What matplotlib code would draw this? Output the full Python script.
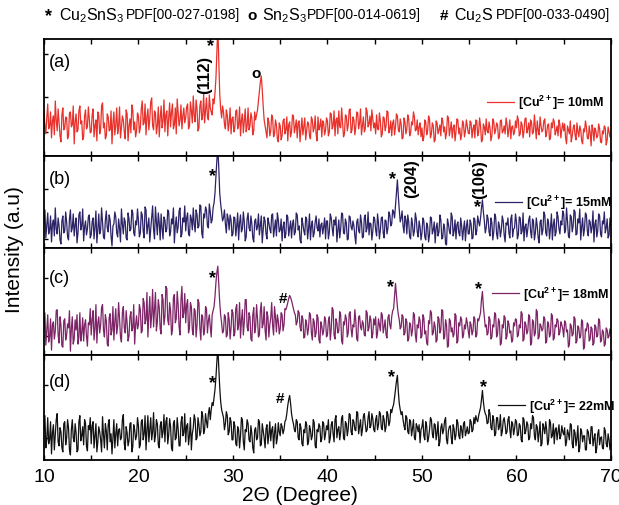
import numpy as np
import matplotlib
matplotlib.use("Agg")
from matplotlib import pyplot as plt
from matplotlib.ticker import MultipleLocator, NullFormatter

plt.rcParams['font.family'] = ['Liberation Sans', 'DejaVu Sans']
plt.rcParams['mathtext.default'] = 'regular'

# 2theta grid, 0.1 degree step from 10 to 70
two_theta = np.round(np.linspace(10, 70, 601), 1)

# intensities (arbitrary units), one row = 5 degrees
int_a = [
    45, 30, 22, 38, 52, 27, 30, 44, 18, 35, 40, 21, 55, 36, 25, 47, 33, 20, 14, 41,
    48, 26, 28, 39, 38, 17, 20, 43, 44, 29, 31, 50, 12, 34, 42, 24, 26, 45, 50, 32,
    35, 16, 19, 40, 46, 27, 29, 49, 37, 23,
    24, 41, 47, 19, 30, 36, 15, 44, 41, 22, 27, 50, 53, 28, 33, 17, 20, 42, 39, 25,
    26, 45, 12, 33, 44, 21, 31, 48, 22, 30, 49, 18, 28, 40, 36, 24, 17, 46, 42, 15,
    30, 37, 23, 51, 46, 26, 34, 19, 25, 43,
    40, 23, 28, 47, 55, 31, 33, 52, 21, 39, 47, 26, 37, 54, 58, 30, 26, 45, 43, 22,
    30, 49, 19, 38, 50, 28, 35, 56, 24, 41, 45, 20, 38, 53, 29, 44, 52, 27, 31, 48,
    22, 57, 44, 30, 36, 51, 27, 40, 48, 33,
    38, 49, 52, 27, 30, 54, 45, 33, 60, 41, 34, 56, 47, 25, 28, 50, 55, 36, 40, 62,
    33, 45, 58, 39, 36, 61, 48, 44, 41, 57, 52, 63, 78, 104, 130, 95, 62, 47, 38, 50,
    44, 32, 27, 46, 41, 25, 33, 48, 22, 37,
    39, 24, 28, 45, 46, 27, 31, 49, 20, 36, 42, 23, 35, 47, 24, 30, 48, 26, 30, 43,
    38, 21, 25, 44, 36, 41, 46, 55, 64, 74, 80, 66, 50, 36, 30, 24, 18, 38, 34, 20,
    25, 41, 38, 19, 22, 36, 31, 17, 14, 33,
    30, 16, 20, 35, 37, 22, 26, 39, 15, 31, 34, 19, 24, 41, 40, 23, 29, 36, 18, 33,
    35, 14, 27, 38, 21, 30, 38, 16, 25, 34, 32, 20, 17, 39, 36, 24, 28, 40, 22, 15,
    39, 26, 30, 37, 19, 35, 33, 21, 26, 38,
    35, 20, 24, 43, 42, 27, 30, 45, 20, 36, 38, 22, 45, 29, 28, 48, 34, 19, 22, 41,
    40, 25, 31, 46, 47, 23, 26, 39, 36, 21, 29, 44, 43, 27, 33, 47, 21, 30, 39, 24,
    27, 48, 44, 29, 32, 40, 25, 46, 37, 28,
    33, 22, 41, 27, 26, 43, 35, 19, 22, 39, 38, 25, 30, 45, 44, 23, 27, 35, 20, 33,
    36, 21, 29, 42, 40, 26, 24, 37, 32, 17, 18, 38, 34, 22, 27, 41, 37, 20, 23, 34,
    31, 44, 39, 25, 26, 36, 21, 29, 33, 19,
    28, 15, 19, 36, 34, 21, 25, 40, 37, 18, 22, 33, 30, 14, 16, 35, 33, 22, 26, 31,
    20, 38, 35, 24, 29, 17, 23, 40, 38, 20, 27, 34, 18, 28, 31, 15, 24, 37, 36, 22,
    28, 16, 21, 35, 32, 19, 25, 36, 30, 23,
    22, 35, 33, 18, 27, 31, 18, 36, 35, 20, 24, 38, 30, 14, 16, 32, 29, 21, 37, 25,
    23, 34, 28, 15, 20, 37, 34, 22, 26, 33, 31, 17, 19, 35, 36, 23, 25, 30, 22, 38,
    32, 19, 27, 36, 17, 29, 30, 21, 24, 35,
    28, 40, 36, 20, 22, 34, 31, 18, 25, 37, 38, 23, 27, 33, 19, 36, 33, 22, 24, 41,
    29, 17, 35, 26, 21, 39, 30, 24, 26, 35, 37, 19, 23, 31, 32, 16, 18, 33, 28, 37,
    34, 21, 25, 30, 20, 36, 31, 18, 27, 33,
    25, 32, 18, 12, 30, 26, 22, 35, 14, 20, 28, 31, 21, 16, 33, 24, 19, 30, 26, 15,
    12, 27, 24, 35, 29, 18, 17, 30, 23, 10, 31, 26, 15, 28, 25, 18, 20, 32, 27, 14,
    13, 25, 22, 30, 28, 11, 16, 29, 24, 19,
    18,
]
int_b = [
    25, 38, 10, 22, 35, 14, 18, 32, 6, 24, 28, 12, 40, 19, 14, 30, 22, 8, 4, 27,
    32, 15, 17, 36, 26, 11, 8, 29, 38, 16, 20, 34, 12, 23, 30, 5, 15, 33, 36, 18,
    22, 39, 7, 21, 27, 13, 19, 31, 33, 10,
    13, 26, 30, 9, 21, 37, 5, 18, 34, 14, 18, 40, 25, 11, 9, 28, 37, 20, 16, 33,
    28, 12, 2, 22, 24, 36, 31, 15, 11, 29, 20, 6, 39, 24, 14, 30, 26, 10, 8, 35,
    29, 17, 19, 38, 35, 15, 12, 27, 23, 39,
    27, 11, 15, 36, 33, 17, 10, 41, 38, 14, 22, 30, 6, 19, 30, 42, 18, 9, 41, 26,
    13, 35, 25, 8, 34, 20, 9, 31, 28, 16, 19, 38, 36, 12, 16, 29, 24, 40, 5, 22,
    31, 15, 21, 37, 40, 11, 14, 30, 26, 42,
    17, 30, 35, 14, 12, 33, 29, 18, 40, 24, 16, 38, 33, 20, 22, 43, 42, 15, 10, 34,
    30, 41, 38, 22, 20, 44, 36, 25, 28, 40, 45, 55, 72, 88, 100, 80, 55, 44, 36, 27,
    30, 38, 24, 15, 34, 29, 18, 33, 28, 12,
    14, 31, 30, 12, 22, 35, 8, 25, 33, 16, 19, 36, 26, 7, 11, 29, 35, 20, 17, 32,
    24, 10, 6, 27, 29, 18, 21, 34, 13, 23, 32, 5, 18, 31, 27, 14, 9, 30, 25, 19,
    15, 33, 34, 11, 20, 28, 12, 35, 28, 16,
    18, 29, 7, 21, 26, 10, 14, 33, 31, 12, 20, 27, 10, 24, 28, 13, 16, 35, 33, 18,
    22, 8, 5, 30, 24, 17, 13, 31, 29, 9, 19, 34, 8, 22, 27, 11, 15, 26, 32, 20,
    17, 29, 11, 23, 25, 14, 21, 30, 9, 27,
    27, 9, 16, 34, 30, 20, 12, 28, 23, 31, 6, 18, 28, 10, 19, 35, 34, 15, 14, 29,
    25, 8, 9, 32, 31, 21, 18, 27, 22, 12, 4, 26, 29, 17, 15, 33, 26, 10, 11, 30,
    33, 16, 20, 36, 13, 25, 24, 8, 17, 31,
    29, 18, 12, 34, 25, 9, 18, 30, 31, 15, 10, 28, 27, 14, 20, 36, 33, 22, 24, 38,
    36, 30, 42, 55, 68, 52, 38, 26, 30, 37, 22, 15, 32, 28, 14, 33, 26, 11, 9, 30,
    24, 12, 17, 35, 29, 16, 11, 27, 21, 8,
    15, 30, 27, 11, 8, 25, 22, 6, 13, 31, 30, 14, 18, 26, 5, 20, 25, 12, 16, 33,
    28, 9, 10, 24, 20, 4, 3, 29, 24, 17, 14, 35, 31, 12, 17, 28, 9, 23, 26, 15,
    12, 30, 22, 8, 19, 27, 7, 21, 28, 14,
    14, 28, 24, 9, 10, 30, 28, 13, 17, 32, 26, 22, 30, 40, 48, 36, 27, 15, 20, 33,
    29, 16, 12, 30, 25, 8, 16, 34, 31, 14, 9, 26, 22, 11, 18, 32, 27, 13, 6, 25,
    23, 30, 15, 10, 29, 33, 11, 19, 20, 34,
    26, 9, 13, 31, 30, 14, 17, 35, 7, 21, 24, 11, 19, 28, 32, 16, 10, 29, 27, 8,
    15, 30, 22, 10, 5, 26, 28, 13, 18, 36, 33, 15, 12, 29, 25, 9, 20, 34, 8, 23,
    29, 12, 16, 36, 31, 19, 14, 27, 23, 37,
    34, 15, 18, 40, 27, 12, 10, 33, 31, 16, 22, 38, 36, 13, 14, 29, 25, 39, 8, 21,
    30, 12, 19, 35, 33, 17, 12, 28, 26, 15, 21, 37, 6, 24, 28, 11, 17, 34, 32, 14,
    11, 27, 24, 36, 15, 20, 29, 10, 13, 30,
    22,
]
int_c = [
    28, 42, 10, 25, 40, 13, 18, 36, 5, 30, 33, 16, 24, 44, 45, 20, 12, 38, 30, 9,
    8, 34, 36, 15, 20, 31, 27, 44, 4, 26, 38, 11, 16, 35, 25, 40, 11, 18, 42, 14,
    22, 37, 14, 30, 35, 19, 9, 32, 30, 46,
    20, 35, 44, 15, 26, 50, 12, 32, 38, 22, 30, 47, 50, 25, 18, 40, 34, 11, 9, 37,
    41, 20, 25, 48, 15, 33, 46, 21, 29, 52, 36, 18, 13, 42, 48, 27, 22, 44, 32, 14,
    19, 38, 43, 24, 27, 50, 11, 30, 39, 26,
    30, 50, 45, 22, 24, 56, 52, 31, 35, 62, 18, 40, 58, 27, 40, 65, 28, 45, 62, 24,
    33, 55, 47, 26, 21, 60, 55, 30, 38, 68, 66, 35, 30, 52, 44, 20, 25, 57, 60, 32,
    36, 63, 50, 28, 20, 55, 68, 37, 42, 61,
    32, 50, 55, 22, 27, 52, 48, 25, 20, 46, 44, 18, 30, 55, 52, 27, 15, 40, 38, 20,
    25, 48, 46, 22, 34, 40, 28, 18, 40, 44, 48, 58, 72, 82, 88, 70, 52, 40, 32, 22,
    24, 40, 38, 18, 20, 42, 35, 16, 27, 45,
    42, 19, 22, 46, 50, 25, 30, 52, 17, 35, 45, 20, 33, 55, 55, 28, 24, 42, 38, 16,
    14, 40, 47, 22, 28, 50, 36, 18, 20, 44, 52, 27, 31, 48, 25, 15, 43, 38, 18, 30,
    37, 52, 29, 20, 48, 38, 23, 40, 34, 21,
    26, 42, 40, 24, 30, 46, 45, 48, 52, 56, 59, 57, 54, 50, 46, 42, 40, 30, 33, 44,
    42, 28, 24, 39, 36, 17, 18, 35, 31, 20, 27, 42, 40, 22, 15, 36, 33, 18, 22, 40,
    37, 15, 12, 33, 29, 20, 24, 38, 35, 18,
    20, 34, 38, 15, 26, 47, 45, 20, 16, 36, 32, 22, 24, 43, 40, 14, 11, 33, 30, 40,
    36, 18, 22, 41, 43, 26, 18, 30, 28, 45, 34, 16, 14, 38, 39, 28, 25, 34, 31, 20,
    19, 44, 42, 24, 27, 39, 35, 17, 21, 36,
    30, 38, 17, 22, 36, 30, 24, 42, 40, 22, 28, 35, 20, 17, 37, 40, 30, 26, 38, 44,
    46, 58, 71, 60, 48, 40, 35, 26, 28, 40, 38, 20, 22, 36, 33, 14, 16, 32, 30, 19,
    25, 42, 40, 20, 13, 30, 27, 38, 34, 17,
    19, 40, 37, 21, 24, 12, 10, 34, 31, 44, 42, 20, 22, 33, 28, 13, 15, 38, 36, 22,
    25, 45, 44, 16, 18, 35, 30, 8, 9, 36, 34, 23, 27, 18, 21, 41, 39, 12, 14, 32,
    29, 38, 35, 17, 20, 30, 26, 37, 32, 24,
    17, 33, 30, 20, 24, 38, 36, 18, 20, 36, 34, 38, 42, 55, 63, 48, 38, 28, 30, 20,
    22, 38, 35, 16, 18, 30, 28, 42, 40, 18, 21, 36, 33, 10, 12, 30, 27, 39, 37, 16,
    19, 34, 31, 22, 24, 13, 15, 32, 29, 36,
    35, 18, 20, 30, 27, 43, 41, 14, 16, 33, 30, 21, 24, 40, 38, 10, 12, 35, 33, 19,
    22, 45, 43, 16, 18, 31, 29, 24, 26, 38, 36, 12, 14, 33, 31, 18, 21, 41, 39, 15,
    17, 30, 28, 36, 34, 20, 23, 33, 30, 26,
    18, 34, 32, 23, 25, 8, 10, 31, 29, 19, 21, 38, 36, 12, 14, 29, 27, 17, 19, 35,
    33, 6, 8, 26, 24, 32, 30, 14, 16, 28, 26, 10, 12, 30, 28, 18, 20, 36, 34, 13,
    15, 25, 23, 9, 11, 27, 25, 17, 19, 26,
    22,
]
int_d = [
    30, 44, 12, 20, 42, 16, 20, 38, 6, 27, 35, 10, 25, 40, 46, 18, 14, 32, 28, 12,
    8, 36, 38, 15, 22, 40, 32, 10, 5, 30, 40, 22, 18, 36, 27, 8, 10, 38, 44, 19,
    24, 33, 15, 40, 36, 14, 9, 34, 30, 42,
    16, 34, 38, 12, 24, 36, 8, 18, 33, 28, 20, 8, 43, 25, 12, 36, 29, 10, 35, 40,
    18, 26, 6, 22, 40, 12, 26, 36, 14, 30, 31, 20, 22, 40, 45, 16, 10, 33, 27, 14,
    19, 36, 37, 8, 13, 35, 30, 20, 24, 42,
    34, 12, 15, 38, 40, 20, 26, 44, 10, 30, 44, 18, 30, 42, 20, 28, 47, 18, 24, 40,
    36, 15, 12, 34, 38, 22, 28, 45, 18, 38, 42, 16, 25, 41, 33, 12, 9, 36, 39, 20,
    22, 42, 31, 14, 14, 37, 43, 24, 27, 46,
    18, 34, 36, 15, 24, 42, 10, 26, 32, 45, 40, 20, 22, 42, 35, 24, 28, 48, 44, 26,
    30, 46, 38, 32, 46, 52, 40, 50, 57, 54, 62, 70, 82, 98, 112, 92, 72, 58, 50, 46,
    42, 30, 36, 48, 44, 25, 28, 42, 38, 20,
    20, 38, 34, 16, 14, 33, 30, 12, 24, 42, 40, 18, 10, 30, 28, 40, 36, 20, 18, 34,
    26, 12, 7, 30, 32, 20, 22, 40, 38, 14, 15, 36, 29, 22, 12, 31, 35, 16, 25, 38,
    19, 30, 33, 12, 27, 36, 16, 22, 37, 28,
    24, 36, 33, 26, 30, 38, 40, 46, 54, 60, 64, 56, 46, 40, 36, 30, 28, 40, 38, 22,
    20, 36, 32, 16, 14, 30, 27, 38, 35, 15, 18, 34, 30, 20, 24, 40, 37, 14, 12, 30,
    28, 36, 33, 18, 21, 38, 36, 20, 26, 34,
    30, 40, 17, 22, 35, 38, 26, 18, 40, 44, 22, 30, 33, 20, 28, 42, 44, 22, 20, 38,
    36, 24, 31, 46, 45, 28, 25, 40, 38, 30, 29, 48, 47, 26, 33, 40, 24, 30, 43, 46,
    36, 28, 30, 42, 48, 32, 34, 46, 41, 30,
    28, 40, 44, 30, 35, 48, 46, 32, 30, 44, 40, 28, 33, 48, 45, 34, 38, 50, 47, 52,
    55, 62, 70, 78, 84, 68, 56, 50, 45, 48, 40, 34, 30, 44, 42, 28, 26, 40, 38, 24,
    31, 40, 22, 20, 36, 33, 28, 35, 17, 30,
    33, 40, 24, 20, 38, 34, 18, 22, 30, 42, 40, 26, 22, 36, 35, 20, 27, 38, 14, 18,
    32, 36, 26, 30, 39, 42, 20, 16, 29, 33, 34, 22, 16, 35, 31, 20, 25, 40, 37, 24,
    21, 34, 30, 22, 36, 38, 24, 28, 33, 26,
    27, 40, 38, 28, 30, 42, 36, 44, 40, 38, 44, 48, 52, 60, 69, 58, 50, 46, 44, 36,
    37, 50, 46, 32, 30, 44, 40, 24, 26, 42, 42, 30, 33, 45, 24, 28, 39, 42, 35, 26,
    28, 40, 43, 30, 22, 38, 36, 25, 31, 40,
    38, 24, 25, 36, 34, 20, 18, 42, 40, 26, 29, 38, 35, 20, 22, 36, 31, 44, 42, 24,
    20, 35, 33, 18, 27, 38, 14, 16, 36, 32, 26, 38, 30, 15, 19, 40, 37, 22, 24, 36,
    16, 30, 32, 20, 28, 35, 21, 24, 34, 28,
    25, 32, 14, 18, 30, 26, 20, 36, 35, 16, 12, 30, 27, 14, 22, 34, 8, 12, 31, 28,
    18, 24, 24, 10, 10, 30, 28, 20, 16, 33, 33, 14, 21, 26, 7, 12, 26, 30, 15, 22,
    23, 12, 11, 32, 29, 16, 13, 26, 20, 10,
    16,
]

series = [int_a, int_b, int_c, int_d]
labels = ['[Cu$^{2+}$]= 10mM', '[Cu$^{2+}$]= 15mM', '[Cu$^{2+}$]= 18mM', '[Cu$^{2+}$]= 22mM']
panel_tags = ['(a)', '(b)', '(c)', '(d)']
colors = ['#e8312b', '#2b2366', '#7d2466', '#111111']
ytop = [117, 92, 106, 104]
yticks = [[24, 59, 102], [9, 59], [19, 76], [22, 74]]

# axes boxes in figure fractions (left, bottom, width, height)
boxes = [
    (0.071, 0.690, 0.916, 0.231),
    (0.071, 0.508, 0.916, 0.182),
    (0.071, 0.296, 0.916, 0.212),
    (0.071, 0.089, 0.916, 0.207),
]
leg_pos = [(0.781, 0.46), (0.795, 0.50), (0.790, 0.575), (0.800, 0.52)]
tag_y = [0.81, 0.75, 0.72, 0.75]

# peak marks: (x, y, text, rotation)
marks = [
    [(27.65, 110, '*', 0), (27.0, 82, '(112)', 90), (32.4, 83, 'o', 0)],
    [(27.8, 72, '*', 0), (46.9, 69, '*', 0), (48.9, 70, '(204)', 90),
     (56.1, 69, '(106)', 90), (55.9, 41, '*', 0)],
    [(27.8, 77, '*', 0), (35.3, 57, '#', 0), (46.7, 68, '*', 0), (56.0, 66, '*', 0)],
    [(27.8, 77, '*', 0), (35.0, 62, '#', 0), (46.8, 83, '*', 0), (56.5, 73, '*', 0)],
]

fig = plt.figure(figsize=(6.19, 5.06), dpi=100)

for i in range(4):
    y = np.array(series[i], dtype=float)
    assert len(y) == len(two_theta), (i, len(y))
    ax = fig.add_axes(boxes[i])
    ax.plot(two_theta, y, color=colors[i], lw=0.9, label=labels[i])
    ax.set_xlim(10, 70)
    ax.set_ylim(0, ytop[i])
    ax.xaxis.set_major_locator(MultipleLocator(10))
    ax.xaxis.set_minor_locator(MultipleLocator(5))
    ax.set_yticks(yticks[i])
    ax.yaxis.set_major_formatter(NullFormatter())
    ax.tick_params(axis='x', which='both', direction='in', top=True, bottom=True,
                   length=3.5, width=1.0, labelsize=14, pad=6)
    ax.tick_params(axis='y', which='both', direction='in', length=3, width=1.0)
    if i < 3:
        ax.xaxis.set_major_formatter(NullFormatter())
    for s in ax.spines.values():
        s.set_linewidth(1.3)
    ax.text(0.008, tag_y[i], panel_tags[i], transform=ax.transAxes,
            fontsize=13, va='center', ha='left')
    for (mx, my, mt, rot) in marks[i]:
        fs = 13 if mt == '*' else (11 if mt in ('#', 'o') else 12)
        ax.text(mx, my, mt, fontsize=fs, fontweight='bold', ha='center', va='center',
                rotation=rot)
    ax.legend(loc='center left', bbox_to_anchor=leg_pos[i], frameon=False,
              borderpad=0, borderaxespad=0, handlelength=2.2, handletextpad=0.3,
              prop={'weight': 'bold', 'size': 9})

# header with reference phases
fig.text(45 / 619, 0.968, '*', fontsize=13, fontweight='bold', ha='left', va='center')
fig.text(59 / 619, 0.970, 'Cu$_2$SnS$_3$', fontsize=11.5, ha='left', va='center')
fig.text(126 / 619, 0.970, 'PDF[00-027-0198]', fontsize=10, ha='left', va='center')
fig.text(247 / 619, 0.968, 'o', fontsize=11, fontweight='bold', ha='left', va='center')
fig.text(262 / 619, 0.970, 'Sn$_2$S$_3$', fontsize=11.5, ha='left', va='center')
fig.text(307 / 619, 0.970, 'PDF[00-014-0619]', fontsize=10, ha='left', va='center')
fig.text(440 / 619, 0.968, '#', fontsize=11, fontweight='bold', ha='left', va='center')
fig.text(454 / 619, 0.970, 'Cu$_2$S', fontsize=11.5, ha='left', va='center')
fig.text(496 / 619, 0.970, 'PDF[00-033-0490]', fontsize=10, ha='left', va='center')

fig.text(300 / 619, 1 - 496 / 506, '2\u0398 (Degree)', fontsize=15, ha='center', va='center')
fig.text(15 / 619, 1 - 250 / 506, 'Intensity (a.u)', fontsize=15, rotation=90,
         ha='center', va='center')

fig.savefig('out.png', dpi=100)
